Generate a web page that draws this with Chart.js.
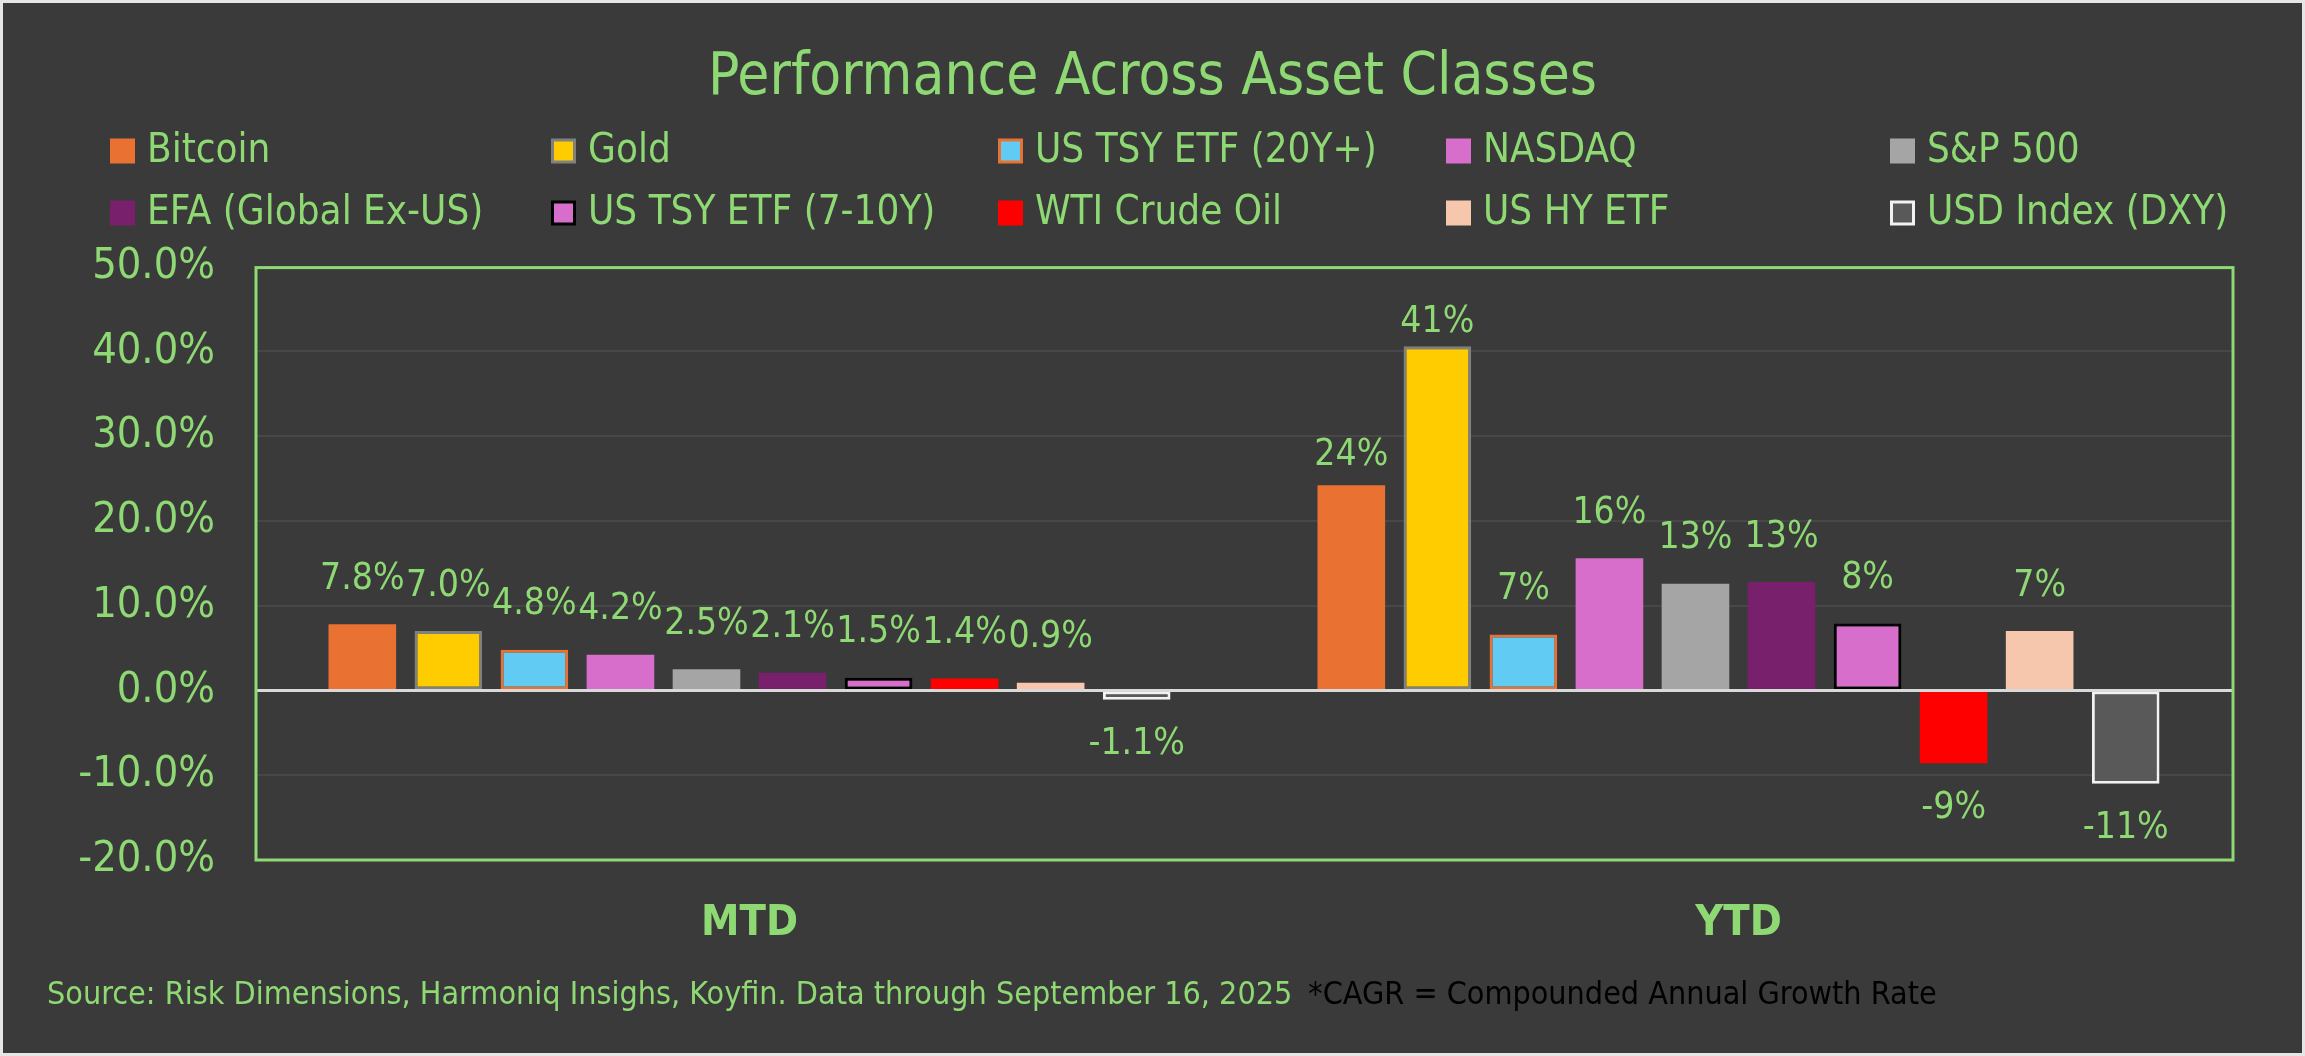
<!DOCTYPE html>
<html>
<head>
<meta charset="utf-8">
<script src="https://cdn.jsdelivr.net/npm/chart.js@4.4.1/dist/chart.umd.min.js"></script>
<style>
  html, body { margin: 0; padding: 0; background: #e6e6e6; }
  #wrap { width: 2305px; height: 1056px; position: relative; }
  canvas { display: block; }
</style>
</head>
<body>
<div id="wrap"><canvas id="c" width="2305" height="1056"></canvas></div>
<script>
// ---------- data ----------
const categories = ['MTD', 'YTD'];
const seriesNames = ['Bitcoin', 'Gold', 'US TSY ETF (20Y+)', 'NASDAQ', 'S&P 500',
  'EFA (Global Ex-US)', 'US TSY ETF (7-10Y)', 'WTI Crude Oil', 'US HY ETF', 'USD Index (DXY)'];
const mtdValues = [7.8, 7.0, 4.8, 4.2, 2.5, 2.1, 1.5, 1.4, 0.9, -1.1];
const ytdValues = [24.2, 40.6, 6.6, 15.6, 12.6, 12.8, 7.9, -8.6, 7.0, -11.0];
const labelDecimals = [1, 0];
const yTickMin = -20, yTickMax = 50, yTickStep = 10;
const titleText = 'Performance Across Asset Classes';
const footerSource = 'Source: Risk Dimensions, Harmoniq Insighs, Koyfin. Data through September 16, 2025';
const footerNote = '*CAGR = Compounded Annual Growth Rate';

// ---------- styles ----------
const fillColors = ['#E97132', '#FFCC00', '#61CBF3', '#D86ECC', '#A5A5A5',
  '#78206B', '#D86ECC', '#FF0000', '#F6C6AD', '#595959'];
const borderColors = ['#E97132', '#808080', '#E97132', '#D86ECC', '#A5A5A5',
  '#78206B', '#000000', '#FF0000', '#F6C6AD', '#F2F2F2'];
const borderWidths = [0, 3, 3, 0, 0, 0, 3, 0, 0, 3];
// label gap (px) from bar end; a couple of labels sit closer in the original
const labelGap = 45;
const labelGapOverride = { '0-1': 30, '1-1': 24 }; // key: datasetIndex-categoryIndex
const GREEN = '#8ED973';
const FONT = "'Liberation Sans Narrow', 'Arial Narrow', 'DejaVu Sans Condensed', sans-serif";

const datasets = seriesNames.map((name, i) => ({
  label: name,
  data: [mtdValues[i], ytdValues[i]],
  backgroundColor: fillColors[i],
  borderColor: borderColors[i],
  borderWidth: borderWidths[i],
  borderSkipped: false,
  categoryPercentage: 0.87,
  barPercentage: 0.786
}));

const bgPlugin = {
  id: 'bg',
  beforeDraw(chart) {
    const ctx = chart.ctx;
    ctx.save();
    ctx.fillStyle = '#e6e6e6';
    ctx.fillRect(0, 0, chart.width, chart.height);
    ctx.fillStyle = '#3A3A3A';
    ctx.fillRect(3, 3, chart.width - 6, chart.height - 6);
    ctx.restore();
  }
};

const overlayPlugin = {
  id: 'overlay',
  afterDatasetsDraw(chart) {
    const ctx = chart.ctx;
    const a = chart.chartArea;
    const ys = chart.scales.y;
    ctx.save();
    // zero line
    const z = ys.getPixelForValue(0);
    ctx.strokeStyle = '#D9D9D9';
    ctx.lineWidth = 3;
    ctx.beginPath();
    ctx.moveTo(a.left, z);
    ctx.lineTo(a.right, z);
    ctx.stroke();
    // plot border
    ctx.strokeStyle = GREEN;
    ctx.lineWidth = 3;
    ctx.strokeRect(a.left + 1, a.top + 1, a.right - a.left - 1, a.bottom - a.top - 1);
    // data labels
    ctx.fillStyle = GREEN;
    ctx.font = '37px ' + FONT;
    ctx.textAlign = 'center';
    ctx.textBaseline = 'middle';
    chart.data.datasets.forEach((ds, di) => {
      const meta = chart.getDatasetMeta(di);
      meta.data.forEach((el, ci) => {
        const v = ds.data[ci];
        const txt = v.toFixed(labelDecimals[ci]) + '%';
        const key = di + '-' + ci;
        const gap = (key in labelGapOverride) ? labelGapOverride[key] : labelGap;
        const y = v >= 0 ? el.y - gap : el.y + gap;
        ctx.fillText(txt, el.x, y);
      });
    });
    ctx.restore();
  },
  afterDraw(chart) {
    const ctx = chart.ctx;
    ctx.save();
    // legend grid
    const colX = [110, 551, 998, 1446, 1890];
    const rowY = [151, 213];
    ctx.font = '40px ' + FONT;
    ctx.textBaseline = 'middle';
    ctx.textAlign = 'left';
    chart.data.datasets.forEach((ds, i) => {
      const x = colX[i % 5];
      const y = rowY[Math.floor(i / 5)];
      const s = 25;
      if (ds.borderWidth > 0) {
        ctx.fillStyle = ds.borderColor;
        ctx.fillRect(x, y - s / 2, s, s);
        ctx.fillStyle = ds.backgroundColor;
        ctx.fillRect(x + 3, y - s / 2 + 3, s - 6, s - 6);
      } else {
        ctx.fillStyle = ds.backgroundColor;
        ctx.fillRect(x, y - s / 2, s, s);
      }
      ctx.fillStyle = GREEN;
      ctx.fillText(ds.label, x + 37, y + 1);
    });
    // footer
    ctx.font = '32px ' + FONT;
    ctx.fillStyle = GREEN;
    ctx.fillText(footerSource, 47, 996);
    const w = ctx.measureText(footerSource).width;
    ctx.fillStyle = '#000000';
    ctx.fillText(footerNote, 47 + w + 16, 996);
    ctx.restore();
  }
};

new Chart(document.getElementById('c'), {
  type: 'bar',
  data: { labels: categories, datasets },
  plugins: [bgPlugin, overlayPlugin],
  options: {
    responsive: false,
    animation: false,
    devicePixelRatio: 1,
    layout: { padding: { top: 0, right: 72, bottom: 0, left: 72 } },
    plugins: {
      legend: { display: false },
      tooltip: { enabled: false },
      title: {
        display: true,
        text: titleText,
        color: GREEN,
        font: { family: FONT, size: 58, weight: 'normal', lineHeight: 1.2 },
        padding: { top: 44, bottom: 153 }
      }
    },
    scales: {
      x: {
        grid: { display: false, drawTicks: false },
        border: { display: false },
        ticks: { color: GREEN, font: { family: FONT, size: 43, weight: 'bold' }, padding: 38 },
        afterFit(scale) { scale.height = 196; }
      },
      y: {
        min: yTickMin,
        max: yTickMax,
        grid: { color: '#474747', lineWidth: 2, drawTicks: false },
        border: { display: false },
        ticks: {
          stepSize: yTickStep,
          color: GREEN,
          padding: 40,
          font: { family: FONT, size: 43 },
          callback: v => v.toFixed(1) + '%'
        },
        afterFit(scale) { scale.width = 183; }
      }
    }
  }
});
</script>
</body>
</html>
